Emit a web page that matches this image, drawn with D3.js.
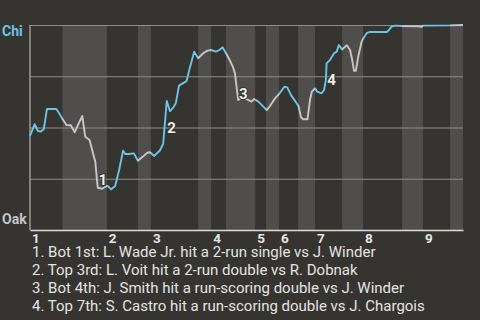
<!DOCTYPE html>
<html>
<head>
<meta charset="utf-8">
<script src="https://cdn.jsdelivr.net/npm/d3@7"></script>
<style>
	html, body { margin: 0; padding: 0; background: #353431; }
	svg { display: block; font-family: Roboto, "Noto Sans", sans-serif; }
</style>
</head>
<body>
<div id="chart"></div>
<script>
// play sequence number (x) and Chicago win probability in % (y)
const playIdx = [0, 1.3, 2.2, 3.0, 3.8, 4.7, 7.3, 8.0, 9.0, 10.1, 11.3, 12.4, 13.5, 14.5, 15.3, 16.5, 17.7, 18.1, 18.6, 18.8,
	20.0, 20.9, 21.4, 22.5, 23.6, 24.7, 25.8, 26.4, 27.4, 28.8, 29.9, 31.3, 32.5, 33.3, 34.4, 36.0, 36.9, 37.9, 38.8, 39.7,
	40.4, 41.3, 42.8, 43.4, 44.3, 45.5, 46.6, 48.0, 49.2, 50.2, 51.5, 52.5, 53.4, 54.3, 55.2, 56.2, 56.8, 57.3, 57.7, 58.4,
	59.6, 61.4, 62.1, 63.3, 64.2, 65.6, 66.5, 67.9, 69.0, 70.5, 71.3, 72.3, 73.4, 74.4, 75.1, 75.7, 76.9, 77.6, 78.1, 79.0,
	79.6, 80.8, 81.5, 82.0, 82.2, 83.1, 84.3, 85.0, 85.6, 86.5, 87.8, 88.7, 89.3, 89.8, 90.3, 91.0, 91.9, 92.4, 93.3, 94.2,
	98.9, 99.5, 100.2, 101.2, 103.0, 107.8, 108.4, 109.0, 116.4, 120];
const chiWin = [45.9, 51.6, 48.3, 48.0, 49.1, 59.0, 59.0, 57.2, 54.1, 51.2, 51.1, 47.7, 52.0, 55.6, 45.5, 43.9, 35.8, 33.3, 23.6, 20.6,
	20.1, 21.1, 21.6, 19.9, 21.5, 29.3, 38.7, 37.1, 37.1, 37.4, 33.8, 35.8, 37.7, 37.9, 36.1, 38.8, 42.0, 62.9, 58.0, 59.7,
	61.8, 70.4, 72.0, 72.7, 79.2, 87.0, 83.8, 86.2, 87.5, 87.8, 87.0, 87.8, 89.1, 86.2, 83.4, 79.7, 76.4, 69.1, 63.4, 64.2,
	64.2, 62.6, 63.9, 62.6, 61.0, 58.5, 60.5, 64.2, 66.3, 69.9, 69.6, 65.9, 63.1, 60.5, 55.0, 54.0, 54.0, 63.4, 67.5, 69.1,
	67.5, 66.7, 68.3, 73.2, 81.3, 82.9, 86.2, 87.0, 90.2, 88.1, 90.1, 87.8, 82.9, 77.6, 77.6, 84.9, 91.9, 93.5, 96.0, 96.6,
	96.6, 97.6, 99.2, 99.7, 99.5, 99.4, 99.1, 99.7, 99.8, 100];

// half-inning starts (top, bottom, top, ...)
const halfStarts = [0, 9, 21.3, 29.9, 33.5, 46.6, 50.2, 54.3, 62.4, 65.4, 69.0, 74.3, 79.0, 86.5, 92.3, 103.1, 108.9, 116.4];
const lastPlay = 120;
const inningLabels = ["1", "2", "3", "4", "5", "6", "7", "8", "9"];

const annoLabels = ["1", "2", "3", "4"];
const annoIdx = [20.2, 39.2, 59.1, 83.6];
const annoPct = [24.5, 49.9, 66.7, 73.6];

const notes = [
	"1. Bot 1st: L. Wade Jr. hit a 2-run single vs J. Winder",
	"2. Top 3rd: L. Voit hit a 2-run double vs R. Dobnak",
	"3. Bot 4th: J. Smith hit a run-scoring double vs J. Winder",
	"4. Top 7th: S. Castro hit a run-scoring double vs J. Chargois"
];

const w = 480, h = 320;
const plotLeft = 30, plotRight = 463, plotTop = 25, plotBottom = 230;
const blue = "#6cc4e4", grey = "#c6c6c4";

const svg = d3.select("#chart").append("svg")
	.attr("width", w)
	.attr("height", h);

const x = d3.scaleLinear().domain([0, lastPlay]).range([plotLeft, plotRight]);
const y = d3.scaleLinear().domain([0, 100]).range([plotBottom, plotTop]);

// shaded bottom halves
const halves = halfStarts.map((s, i) => ({ start: s, end: i < halfStarts.length - 1 ? halfStarts[i + 1] : lastPlay, i: i }));
svg.append("g").selectAll("rect")
	.data(halves.filter(d => d.i % 2 === 1))
	.enter().append("rect")
	.attr("x", d => x(d.start))
	.attr("y", plotTop)
	.attr("width", d => x(d.end) - x(d.start))
	.attr("height", plotBottom - plotTop)
	.attr("fill", "#4f4e4c");

// gridlines
const grid = svg.append("g")
	.attr("transform", `translate(${plotLeft},0)`)
	.call(d3.axisLeft(y).tickValues([25, 50, 75, 100]).tickSize(-(plotRight - plotLeft)).tickFormat(""));
grid.select(".domain").remove();
grid.selectAll("line").attr("stroke", "#8e8d8a").attr("stroke-width", 1.2);

// left axis line
svg.append("line")
	.attr("x1", plotLeft).attr("x2", plotLeft)
	.attr("y1", plotTop).attr("y2", plotBottom)
	.attr("stroke", "#b4b3b0").attr("stroke-width", 1.2);

// bottom axis with inning numbers
const topStarts = halfStarts.filter((d, i) => i % 2 === 0);
const xAxis = svg.append("g")
	.attr("transform", `translate(0,${plotBottom})`)
	.call(d3.axisBottom(x).tickValues(topStarts).tickSize(0).tickFormat((d, i) => inningLabels[i]));
xAxis.select(".domain").attr("stroke", "#dcdcda").attr("stroke-width", 1.5);
xAxis.selectAll("text")
	.attr("text-anchor", "start")
	.attr("dx", 1.5)
	.attr("y", 3)
	.attr("fill", "#e6e6e4")
	.style("font-size", "13.5px")
	.style("font-weight", "bold")
	.style("font-family", "Roboto, sans-serif");

// team labels
svg.append("text").attr("x", 2).attr("y", 36).text("Chi")
	.attr("fill", blue).style("font-size", "14px").style("font-weight", "bold");
svg.append("text").attr("x", 2).attr("y", 224).text("Oak")
	.attr("fill", grey).style("font-size", "14px").style("font-weight", "bold");

// gradient colouring the line by which team bats
const grad = svg.append("defs").append("linearGradient")
	.attr("id", "batting")
	.attr("gradientUnits", "userSpaceOnUse")
	.attr("x1", x(0)).attr("x2", x(lastPlay))
	.attr("y1", 0).attr("y2", 0);
halves.forEach(d => {
	const c = d.i % 2 === 0 ? blue : grey;
	grad.append("stop").attr("offset", d.start / lastPlay).attr("stop-color", c);
	grad.append("stop").attr("offset", d.end / lastPlay).attr("stop-color", c);
});

const pts = playIdx.map((p, i) => [p, chiWin[i]]);
svg.append("path")
	.datum(pts)
	.attr("fill", "none")
	.attr("stroke", "url(#batting)")
	.attr("stroke-width", 1.9)
	.attr("stroke-linejoin", "round")
	.attr("d", d3.line().x(d => x(d[0])).y(d => y(d[1])));

// play annotations
svg.append("g").selectAll("text")
	.data(annoLabels)
	.enter().append("text")
	.attr("x", (d, i) => x(annoIdx[i]))
	.attr("y", (d, i) => y(annoPct[i]))
	.attr("dy", "0.36em")
	.attr("text-anchor", "middle")
	.attr("fill", "#ececea")
	.attr("stroke", "#353431")
	.attr("stroke-width", 2)
	.attr("paint-order", "stroke")
	.style("font-size", "15px")
	.style("font-weight", "bold")
	.text(d => d);

// notes under chart
svg.append("g").selectAll("text")
	.data(notes)
	.enter().append("text")
	.attr("x", 32)
	.attr("y", (d, i) => 257 + i * 18)
	.attr("fill", "#e4e4e2")
	.style("font-size", "15px")
	.text(d => d);
</script>
</body>
</html>
